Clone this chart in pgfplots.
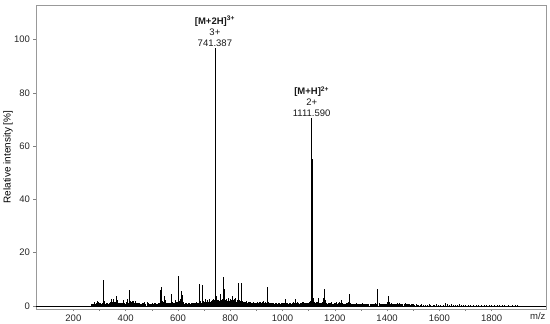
\documentclass[border=0pt]{standalone}
\usepackage{fontspec}
\setmainfont{Liberation Sans}
\usepackage{pgfplots}
\pgfplotsset{compat=1.18}
\begin{document}
\begin{tikzpicture}
\begin{axis}[
  scale only axis, width=510pt, height=304pt,
  xmin=57, xmax=2008, ymin=-1.2, ymax=113,
  clip=false,
  xtick={200,400,...,1800}, minor x tick num=1,
  ytick={0,20,...,100},
  tick pos=left, tick align=outside,
  major tick length=2.5pt, minor tick length=2pt,
  axis line style={black!40}, tick style={black!50, line width=0.4pt},
  ticklabel style={font=\fontsize{9.5}{11}\selectfont, text=black!85},
  /pgf/number format/assume math mode=true,
  /pgf/number format/1000 sep={},
  ylabel={Relative intensity [\%]},
  ylabel style={font=\fontsize{9}{10}\selectfont, text=black!85},
  every axis y label/.style={at={(axis description cs:-0.055,0.5)}, rotate=90, anchor=center},
]
\addplot[black, line width=0.5pt] coordinates {(57,0) (2008,0)};
% fine baseline noise
\addplot[ycomb, black, line width=0.45pt, mark=none] table {
273 0.6
279 0.9
284 0.7
292 1.1
297 0.8
302 1.0
307 0.7
313 0.9
323 0.8
328 1.1
333 0.7
339 1.0
344 0.8
348 1.2
356 0.9
361 1.3
371 1.0
377 0.8
383 1.2
389 0.9
394 1.1
399 0.8
405 1.2
411 1.0
421 1.3
427 1.1
433 1.0
439 0.9
444 0.7
449 0.9
455 0.8
462 0.7
468 0.9
476 0.8
484 1.0
491 0.7
498 0.8
506 0.7
514 0.9
521 0.8
528 1.2
538 1.5
550 1.3
556 1.0
561 0.8
566 1.0
571 1.1
577 1.0
582 0.9
587 1.2
592 1.0
597 1.4
606 1.6
615 1.8
620 1.2
625 0.8
630 0.9
635 0.7
641 0.9
647 0.8
653 1.0
659 0.9
664 1.0
669 1.2
674 0.9
679 1.1
684 1.3
689 1.2
696 1.4
701 1.6
706 1.5
711 1.8
716 1.4
721 1.6
726 1.3
731 1.8
735 2.0
739 2.2
748 2.5
753 1.8
758 1.9
763 2.0
768 1.7
772 2.0
776 2.4
781 2.0
786 1.6
791 2.2
796 1.7
800 2.1
804 2.0
809 1.6
813 2.0
820 1.8
825 1.6
829 1.9
833 1.8
838 1.7
843 1.6
848 1.4
853 1.3
858 1.5
863 1.1
869 1.3
875 1.2
881 1.0
887 1.3
893 1.0
900 1.2
906 1.0
912 1.3
918 1.0
924 1.4
930 1.2
937 1.0
945 1.2
950 1.0
956 1.0
962 0.9
969 0.8
975 0.9
981 0.8
988 0.9
994 0.7
1000 0.9
1008 1.0
1015 1.1
1021 0.8
1027 1.0
1033 0.8
1039 1.0
1046 1.1
1053 1.2
1059 0.9
1065 0.8
1071 1.0
1078 1.1
1083 1.0
1089 0.9
1095 1.0
1101 1.1
1106 1.3
1118 1.6
1124 1.1
1129 1.2
1133 1.3
1138 1.0
1143 0.9
1149 1.1
1154 1.5
1158 1.8
1167 1.0
1172 0.8
1178 0.9
1184 1.0
1190 0.8
1197 0.9
1203 1.0
1209 0.8
1215 1.0
1221 1.2
1227 0.9
1234 0.7
1240 0.8
1247 0.9
1253 1.2
1259 1.0
1264 0.7
1270 0.6
1278 0.7
1286 0.6
1294 0.5
1302 0.7
1310 0.5
1318 0.6
1326 0.6
1334 0.5
1342 0.6
1350 0.7
1359 0.8
1373 0.6
1380 0.6
1388 0.5
1396 0.6
1403 1.0
1413 0.8
1420 0.6
1427 0.6
1434 0.7
1442 0.7
1450 0.6
1457 0.5
1464 0.6
1472 0.5
1480 0.5
1488 0.4
1496 0.5
1505 0.4
1515 0.4
1525 0.4
1537 0.4
1552 0.3
1567 0.3
1582 0.4
1597 0.3
1613 0.4
1637 0.4
1652 0.3
1667 0.3
1682 0.4
1700 0.3
1720 0.3
1740 0.3
1760 0.3
1780 0.3
1800 0.2
1820 0.3
1840 0.2
1865 0.2
1890 0.2
};
% main peaks
\addplot[ycomb, black, line width=0.55pt, mark=none] table {
270 0.8
276 0.5
281 1.5
286 1.2
290 1.7
294 1.6
299 1.0
304 0.8
310 1.2
316 9.7
320 1.8
325 1.0
330 1.2
336 0.9
341 1.4
346 2.4
350 1.3
353 2.5
358 1.6
364 3.6
368 2.0
374 1.2
380 0.9
386 1.1
391 2.2
396 1.0
402 1.3
408 2.6
413 5.9
418 1.9
424 1.8
430 1.9
436 1.7
441 1.1
446 0.9
452 1.2
458 0.8
465 1.0
472 1.3
481 1.5
488 0.9
495 0.7
502 0.9
510 1.1
518 0.8
525 1.0
531 5.9
535 7.1
540 1.8
544 1.5
548 3.7
553 2.3
558 1.2
563 0.9
568 1.2
574 4.4
579 1.4
584 1.1
589 2.2
594 1.3
600 11.2
604 1.9
608 2.4
612 5.4
617 4.1
622 1.5
627 1.0
632 0.8
638 1.1
644 0.9
650 1.2
656 1.0
661 0.8
666 1.1
671 1.3
676 1.0
681 8.1
686 1.7
693 7.9
698 1.8
703 2.5
708 1.6
713 2.0
718 2.5
723 1.5
728 1.7
733 2.1
737 2.6
741.387 97
743 30
746 3.5
751 2.2
756 2.0
761 4.4
765 2.1
770 2.4
774 10.7
778 6.5
783 2.6
788 1.8
793 2.9
798 1.6
802 2.4
806 3.8
811 1.8
815 2.5
818 3.1
823 1.5
827 2.0
831 8.5
836 2.2
841 8.5
845 1.9
850 1.6
855 1.4
860 1.7
866 1.2
872 1.5
878 1.3
884 1.1
890 1.6
897 1.0
903 1.4
909 1.2
915 1.5
921 1.1
927 1.9
934 1.3
942 7.0
947 1.5
953 1.1
959 1.2
966 0.9
972 1.2
978 1.0
985 1.1
991 0.8
997 1.0
1004 1.2
1012 2.6
1018 1.2
1024 0.9
1030 1.1
1036 1.0
1042 1.3
1050 2.5
1056 1.4
1062 0.9
1068 1.0
1075 1.4
1080 1.6
1086 1.0
1092 1.1
1098 1.2
1104 1.5
1108 1.8
1111.59 70.5
1113 55
1116 3.0
1121 1.4
1126 1.2
1131 1.6
1135 2.8
1140 1.2
1146 1.0
1151 1.4
1156 3.0
1160 6.5
1164 2.2
1169 1.1
1175 0.9
1181 1.2
1187 1.5
1193 0.8
1200 1.2
1206 1.4
1212 0.9
1218 1.5
1224 2.0
1230 1.0
1237 0.8
1244 0.9
1250 1.5
1256 4.4
1261 1.1
1267 0.8
1274 0.7
1281 0.9
1290 0.7
1298 0.6
1306 0.9
1314 0.6
1322 0.7
1330 0.8
1338 0.6
1346 0.8
1354 0.9
1364 6.4
1369 1.0
1376 0.8
1384 0.7
1392 0.8
1400 1.4
1406 3.5
1410 1.5
1416 0.9
1423 0.7
1430 0.8
1438 1.2
1446 0.9
1453 0.7
1460 0.6
1468 1.0
1476 0.6
1484 0.5
1492 0.6
1500 0.5
1510 0.6
1520 0.4
1530 0.5
1545 0.4
1560 0.5
1575 0.4
1590 0.5
1605 0.4
1621 1.0
1630 0.5
1645 0.6
1660 0.4
1675 0.5
1690 0.4
1710 0.3
1730 0.4
1750 0.3
1770 0.3
1790 0.3
1810 0.3
1830 0.3
1850 0.3
1880 0.3
1900 0.3
};
\node[anchor=south, align=center, inner sep=1pt, text=black!90,
  font=\fontsize{9.5}{11}\selectfont] at (axis cs:741.387,97)
  {\textbf{[M+2H]\textsuperscript{3+}}\\3+\\741.387};
\node[anchor=south, align=center, inner sep=1pt, text=black!90,
  font=\fontsize{9.5}{11}\selectfont] at (axis cs:1111.59,70.5)
  {\textbf{[M+H]\textsuperscript{2+}}\\2+\\1111.590};
\node[anchor=north, font=\fontsize{9.5}{11}\selectfont, text=black!85]
  at (rel axis cs:0.984,0) {m/z};
\coordinate (bl) at (rel axis cs:0,0);
\coordinate (tr) at (rel axis cs:1,1);
\end{axis}
\pgfresetboundingbox
\path[use as bounding box] ([shift={(-36pt,-15pt)}]bl) rectangle ([shift={(4pt,5pt)}]tr);
\end{tikzpicture}
\end{document}
